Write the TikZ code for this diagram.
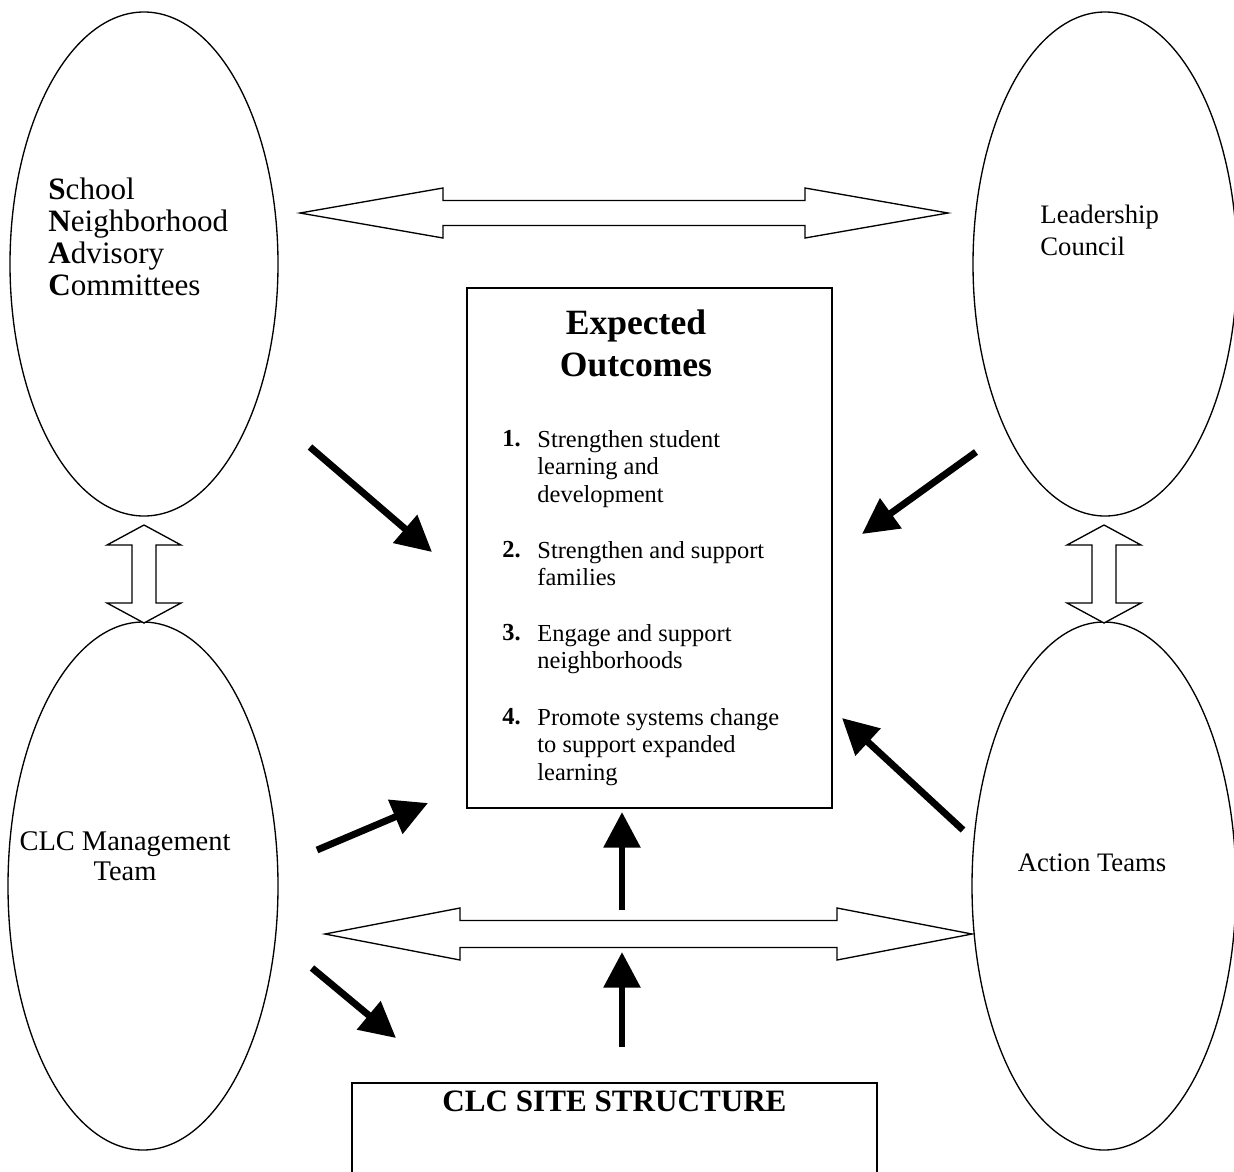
\documentclass[tikz,border=0pt]{standalone}
\usepackage{fontspec}
\setmainfont{Liberation Serif}
\usetikzlibrary{arrows.meta,shapes.geometric,positioning}

\tikzset{
  group/.style={draw, ellipse, line width=0.6pt, inner sep=0pt},
  outbox/.style={draw, line width=0.7pt, inner sep=0pt},
  hollow/.style={draw, line width=0.6pt, fill=white, line join=miter},
  push/.style={line width=3.1pt, -{Triangle[length=16pt,width=16pt]}},
  plain/.style={inner sep=0pt, align=left},
}

\begin{document}
\begin{tikzpicture}[x=0.45pt, y=-0.45pt, font=\fontsize{12}{14}\selectfont]
  \def\u{0.45pt}
  \useasboundingbox (0,0) rectangle (1234,1171);
  \clip (0,0) rectangle (1234,1171);
  % the four groups
  \node[group, minimum width=268*\u, minimum height=504*\u] (snac) at (144,264) {};
  \node[group, minimum width=264*\u, minimum height=504*\u] (lead) at (1105,264) {};
  \node[group, minimum width=270*\u, minimum height=528*\u] (mgmt) at (143,886) {};
  \node[group, minimum width=264*\u, minimum height=528*\u] (action) at (1104,886) {};
  \node[plain, anchor=north west, font=\fontsize{14}{14.4}\selectfont] (snacTxt) at (48,177)
    {\textbf{S}chool\\\textbf{N}eighborhood\\\textbf{A}dvisory\\\textbf{C}ommittees};
  \node[plain, anchor=north west] (leadTxt) at (1040,205) {Leadership\\Council};
  \node[plain, align=center, font=\fontsize{12.8}{13.5}\selectfont] (mgmtTxt) at (125,856) {CLC Management\\Team};
  \node[plain] (actionTxt) at (1092,863) {Action Teams};
  % outcomes
  \node[outbox, minimum width=365*\u, minimum height=520*\u] (outcomes) at (649.5,548) {};
  \node[plain, align=center, font=\bfseries\fontsize{16}{19}\selectfont] (outTitle) at (636,343) {Expected\\Outcomes};
  \foreach \y/\txt [count=\i] in {430/{Strengthen student\\learning and\\development},
      541/{Strengthen and support\\families},
      624/{Engage and support\\neighborhoods},
      708/{Promote systems change\\to support expanded\\learning}}{
    \node[plain, anchor=north west, font=\bfseries\fontsize{11}{12.4}\selectfont] (num\i) at (502,\y) {\i.};
    \node[plain, anchor=north west, font=\fontsize{11}{12.4}\selectfont] (item\i) at (537,\y) {\txt};
  }
  % site structure
  \node[outbox, minimum width=525*\u, minimum height=130*\u, anchor=north] (site) at (614.5,1082) {};
  \node[plain, font=\bfseries\fontsize{14}{16}\selectfont] (siteTxt) at (614.5,1101) {CLC SITE STRUCTURE};
  % hollow links
  \draw[hollow] (300,213) -- ++(143,-25) -- ++(0,12.5) -- (805,200.5) -- ++(0,-12.5)
    -- (948,213) -- ++(-143,25) -- ++(0,-12.5) -- (443,225.5) -- ++(0,12.5) -- cycle;
  \draw[hollow] (325,934) -- ++(135,-26) -- ++(0,12.5) -- (837,920.5) -- ++(0,-12.5)
    -- (972,934) -- ++(-135,26) -- ++(0,-12.5) -- (460,947.5) -- ++(0,12.5) -- cycle;
  \foreach \x/\nm in {144/leftLink,1104/rightLink}{
    \draw[hollow] (\x,525) -- ++(37,20) -- ++(-25,0) -- ++(0,58) -- ++(25,0) -- ++(-37,20)
      -- ++(-37,-20) -- ++(25,0) -- ++(0,-58) -- ++(-25,0) -- cycle;
  }
  % thick arrows
  \coordinate (snacOut) at (310,447);   \coordinate (outNW) at (432,552);
  \coordinate (leadOut) at (976,452);   \coordinate (outNE) at (862,534);
  \coordinate (mgmtOut) at (317,850);   \coordinate (outSW) at (428,803);
  \coordinate (actionOut) at (963,830); \coordinate (outSE) at (842,718);
  \coordinate (linkUp) at (622,910);    \coordinate (outS) at (622,812);
  \coordinate (siteUp) at (622,1047);   \coordinate (linkS) at (622,952);
  \coordinate (mgmtDown) at (312,968);  \coordinate (siteNW) at (396,1038);
  \draw[push] (snacOut) -- (outNW);
  \draw[push] (leadOut) -- (outNE);
  \draw[push] (mgmtOut) -- (outSW);
  \draw[push] (actionOut) -- (outSE);
  \draw[push] (linkUp) -- (outS);
  \draw[push] (siteUp) -- (linkS);
  \draw[push] (mgmtDown) -- (siteNW);
\end{tikzpicture}
\end{document}
